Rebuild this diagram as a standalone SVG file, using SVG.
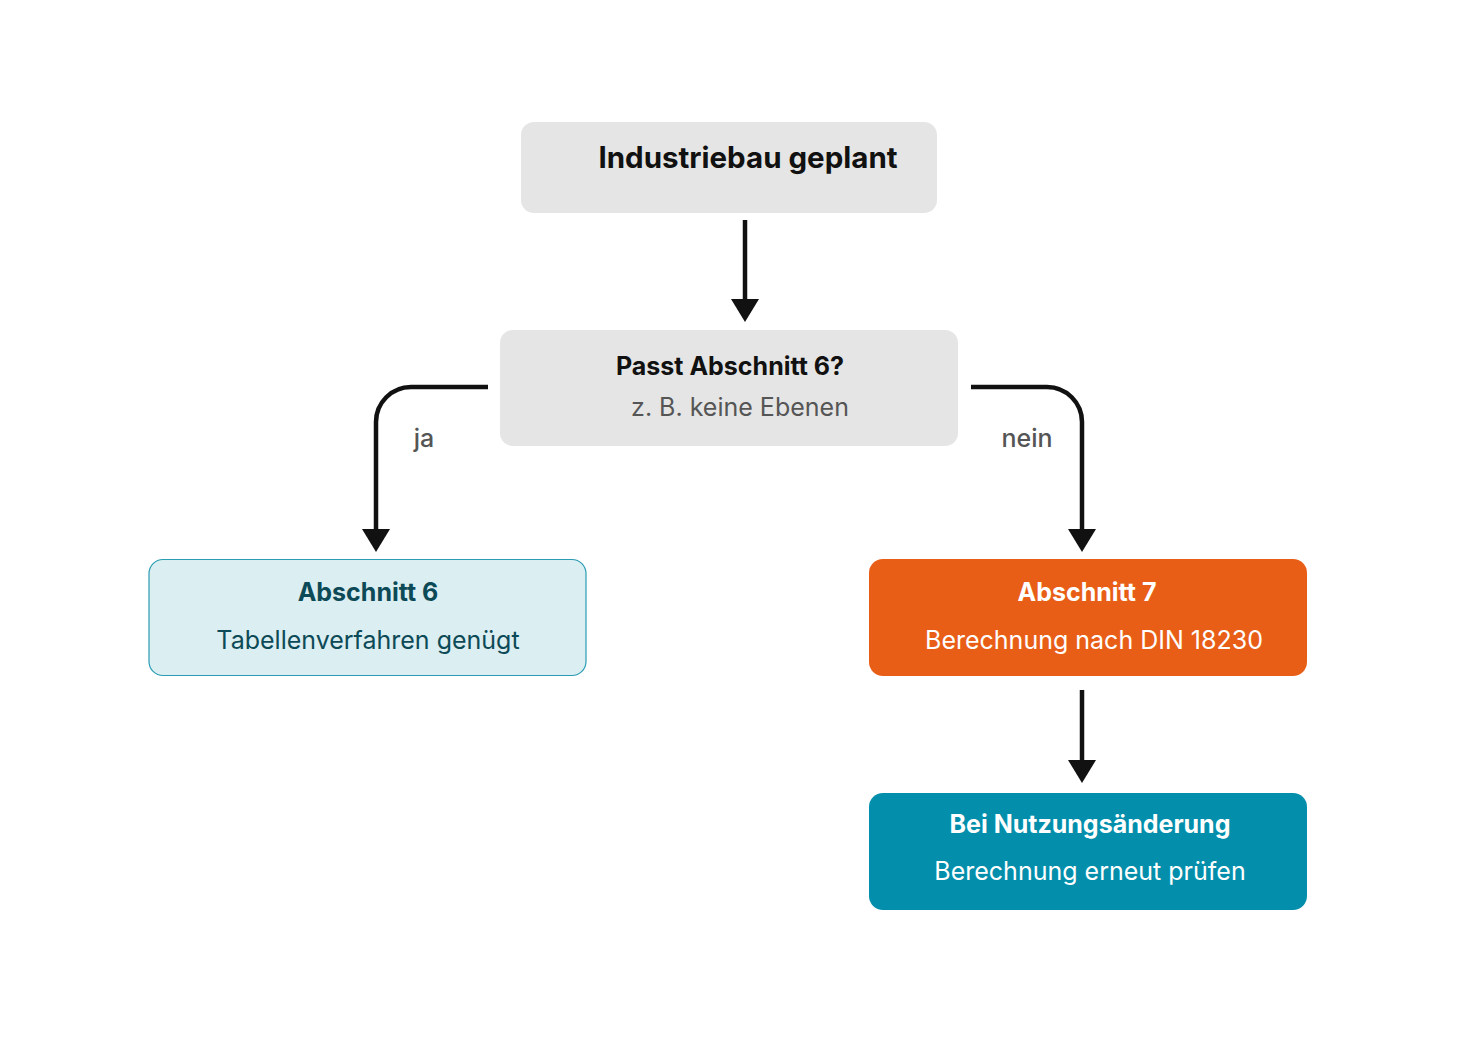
<svg xmlns="http://www.w3.org/2000/svg" width="1459" height="1042" viewBox="0 0 1459 1042">
<defs>
<style>
.h{font-family:Inter,"DejaVu Sans",sans-serif;font-weight:700;text-anchor:middle}
.b{font-family:Inter,"DejaVu Sans",sans-serif;font-weight:400;text-anchor:middle}
.c{fill:none;stroke:#111;stroke-width:4.5}
.lbl{font-family:Inter,"DejaVu Sans",sans-serif;font-size:25px;font-weight:500;fill:#555;text-anchor:middle}
</style>
</defs>
<rect width="1459" height="1042" fill="#fff"/>
<g id="connectors">
<line class="c" x1="745" y1="220" x2="745" y2="302"/>
<polygon points="731,299 759,299 745,322" fill="#111"/>
<path class="c" d="M488,387 H411 A35,35 0 0 0 376,422 V532"/>
<polygon points="362,529 390,529 376,552" fill="#111"/>
<path class="c" d="M971,387 H1047 A35,35 0 0 1 1082,422 V532"/>
<polygon points="1068,529 1096,529 1082,552" fill="#111"/>
<line class="c" x1="1082" y1="690" x2="1082" y2="763"/>
<polygon points="1068,760 1096,760 1082,783" fill="#111"/>
<text class="lbl" x="424" y="447">ja</text>
<text class="lbl" x="1027" y="447">nein</text>
</g>
<g id="n1">
<rect x="521" y="122" width="416" height="91" rx="13" fill="#e5e5e5"/>
<text class="h" x="748" y="168" font-size="29.5" fill="#111">Industriebau geplant</text>
</g>
<g id="n2">
<rect x="500" y="330" width="458" height="116" rx="13" fill="#e5e5e5"/>
<text class="h" x="730" y="375" font-size="25" fill="#111">Passt Abschnitt 6?</text>
<text class="b" x="740" y="416" font-size="25" fill="#555">z. B. keine Ebenen</text>
</g>
<g id="n3">
<rect x="149" y="559.5" width="437" height="116" rx="14" fill="#dbeef1" stroke="#2a9cb3" stroke-width="1.2"/>
<text class="h" x="368" y="601" font-size="25" fill="#0d4a57">Abschnitt 6</text>
<text class="b" x="368" y="649" font-size="25" fill="#0d4a57">Tabellenverfahren genügt</text>
</g>
<g id="n4">
<rect x="869" y="559" width="438" height="117" rx="14" fill="#e95e16"/>
<text class="h" x="1087" y="601" font-size="25" fill="#fff">Abschnitt 7</text>
<text class="b" x="1094" y="649" font-size="25" fill="#fff">Berechnung nach DIN 18230</text>
</g>
<g id="n5">
<rect x="869" y="793" width="438" height="117" rx="14" fill="#038fac"/>
<text class="h" x="1090" y="833" font-size="25" fill="#fff">Bei Nutzungsänderung</text>
<text class="b" x="1090" y="880" font-size="25" fill="#fff">Berechnung erneut prüfen</text>
</g>
</svg>
